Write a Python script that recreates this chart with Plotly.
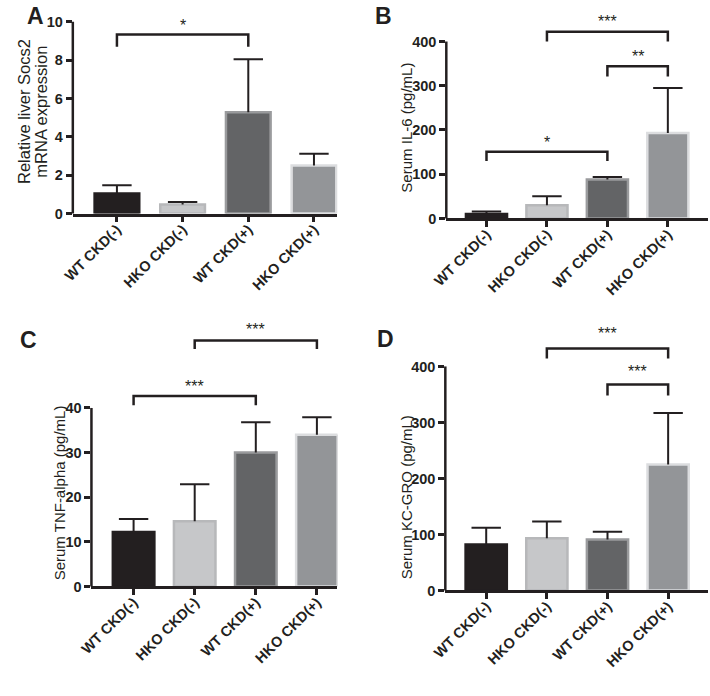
import plotly.graph_objects as go

W, H = 710, 696
INK = "#231f20"
FONT = "Liberation Sans, Arial, sans-serif"

categories = ["WT CKD(-)", "HKO CKD(-)", "WT CKD(+)", "HKO CKD(+)"]

a_vals = [1.05, 0.47, 5.28, 2.5]
a_err = [0.42, 0.13, 2.77, 0.62]
b_vals = [10, 30, 88, 193]
b_err = [6, 20, 6, 102]
c_vals = [12.2, 14.6, 30.0, 34.0]
c_err = [2.9, 8.3, 6.8, 3.9]
d_vals = [82, 93, 91, 225]
d_err = [30, 30, 14, 92]

a_ticks = [0, 2, 4, 6, 8, 10]
b_ticks = [0, 100, 200, 300, 400]
c_ticks = [0, 10, 20, 30, 40]
d_ticks = [0, 100, 200, 300, 400]

# significance brackets: (from, to, line level, leg end level, label, label level)
a_sig = [(0, 2, 9.33, 8.7, "*", 10.0)]
b_sig = [(0, 2, 151, 130, "*", 180), (1, 3, 422, 400, "***", 454), (2, 3, 344, 321, "**", 375)]
c_sig = [(0, 2, 42.7, 40.6, "***", 45.6), (1, 3, 55.1, 53.2, "***", 58.5)]
d_sig = [(2, 3, 367.6, 348, "***", 398), (1, 3, 432, 414, "***", 466)]

a_title = ["Relative liver Socs2", "mRNA expression"]
b_title = ["Serum IL-6 (pg/mL)"]
c_title = ["Serum TNF-alpha (pg/mL)"]
d_title = ["Serum KC-GRO (pg/mL)"]

bar_fill = ["#231f20", "#c6c7c9", "#636466", "#939598"]
bar_edge = ["#231f20", "#b7b8ba", "#9a9b9d", "#dcdddf"]

panels = [
    dict(lab="A", vals=a_vals, err=a_err, ticks=a_ticks, sig=a_sig, xpx=(60, 330), cpx=(105, 306),
         y0=216, yt=22, tmax=10, ext=10.6, title=a_title,
         tx=[9.5, 27.5], ty=113, ts=16.5, lx=22, ly=16),
    dict(lab="B", vals=b_vals, err=b_err, ticks=b_ticks, sig=b_sig, xpx=(441, 708), cpx=(482, 667),
         y0=221, yt=42, tmax=400, ext=480, title=b_title,
         tx=[400], ty=129, ts=15, lx=377, ly=16),
    dict(lab="C", vals=c_vals, err=c_err, ticks=c_ticks, sig=c_sig, xpx=(79, 330), cpx=(122, 309),
         y0=593.3, yt=412.7, tmax=40, ext=61.5, title=c_title,
         tx=[46], ty=499, ts=15, lx=15, ly=344),
    dict(lab="D", vals=d_vals, err=d_err, ticks=d_ticks, sig=d_sig, xpx=(440, 708), cpx=(481.7, 667.3),
         y0=597.3, yt=370.7, tmax=400, ext=490, title=d_title,
         tx=[400], ty=503, ts=15, lx=379, ly=343),
]

fig = go.Figure()
shapes = []
annotations = []
layout = {}

for k, p in enumerate(panels):
    sfx = "" if k == 0 else str(k + 1)
    xa, ya = "x" + sfx, "y" + sfx
    spacing = (p["cpx"][1] - p["cpx"][0]) / 3.0
    r0 = -(p["cpx"][0] - p["xpx"][0]) / spacing
    r1 = 3 + (p["xpx"][1] - p["cpx"][1]) / spacing
    ppu = (p["y0"] - p["yt"]) / p["tmax"]
    top_px = p["y0"] - p["ext"] * ppu
    ydom = [1 - p["y0"] / H, 1 - top_px / H]
    xdom = [p["xpx"][0] / W, p["xpx"][1] / W]

    for i in range(4):
        fig.add_trace(go.Bar(
            x=[i], y=[p["vals"][i]], width=0.68,
            marker=dict(color=bar_fill[i], line=dict(color=bar_edge[i], width=2.5)),
            error_y=dict(type="data", array=[p["err"][i]], arrayminus=[0], symmetric=False,
                         color=INK, thickness=2, width=0),
            xaxis=xa, yaxis=ya, showlegend=False, hoverinfo="skip",
        ))
    # error bar caps
    fig.add_trace(go.Scatter(
        x=list(range(4)), y=[v + e for v, e in zip(p["vals"], p["err"])], mode="markers",
        marker=dict(symbol="line-ew", size=21, color=INK, line=dict(color=INK, width=2)),
        xaxis=xa, yaxis=ya, showlegend=False, hoverinfo="skip",
    ))

    layout["xaxis" + sfx] = dict(
        domain=xdom, range=[r0, r1], anchor=ya, tickvals=[0, 1, 2, 3], ticktext=categories,
        tickangle=-45, showline=True, linecolor=INK, linewidth=2.5, ticks="outside",
        ticklen=6, tickwidth=2.5, tickcolor=INK, showgrid=False, zeroline=False,
        ticklabelstandoff=-7,
        tickfont=dict(family=FONT, size=14.5, color=INK, weight="bold"), fixedrange=True,
    )
    layout["yaxis" + sfx] = dict(
        domain=ydom, range=[0, p["ext"]], anchor=xa, tickvals=p["ticks"],
        showline=False, ticks="outside", ticklen=6, tickwidth=2.5, tickcolor=INK,
        showgrid=False, zeroline=False,
        tickfont=dict(family=FONT, size=14.5, color=INK, weight="bold"), fixedrange=True,
    )
    # y axis line from 0 up to the top tick only
    shapes.append(dict(type="line", xref=xa + " domain", yref=ya + " domain",
                       x0=0, x1=0, y0=0, y1=p["tmax"] / p["ext"],
                       line=dict(color=INK, width=2.5), layer="above"))
    for (i0, i1, ly, ey, txt, sy) in p["sig"]:
        shapes.append(dict(type="path", xref=xa, yref=ya,
                           path=f"M {i0} {ey} L {i0} {ly} L {i1} {ly} L {i1} {ey}",
                           line=dict(color=INK, width=2.5), layer="above"))
        annotations.append(dict(xref=xa, yref=ya, x=(i0 + i1) / 2, y=sy, text=txt,
                                showarrow=False, yanchor="middle", yshift=-4,
                                font=dict(family=FONT, size=16, color=INK)))
    for line_text, tx in zip(p["title"], p["tx"]):
        annotations.append(dict(xref="paper", yref="paper", x=tx / W, y=1 - p["ty"] / H,
                                text=line_text, textangle=-90, showarrow=False,
                                xanchor="center", yanchor="middle",
                                font=dict(family=FONT, size=p["ts"], color=INK)))
    annotations.append(dict(xref="paper", yref="paper", x=p["lx"] / W, y=1 - p["ly"] / H,
                            text="<b>" + p["lab"] + "</b>", showarrow=False,
                            xanchor="center", yanchor="middle",
                            font=dict(family=FONT, size=23, color=INK)))

fig.update_layout(
    width=W, height=H, margin=dict(l=0, r=0, t=0, b=0),
    paper_bgcolor="white", plot_bgcolor="white",
    shapes=shapes, annotations=annotations, bargap=0.3, **layout,
)

fig.write_html("out.html", config={"displayModeBar": False},
               post_script="document.body.style.margin='0';")
